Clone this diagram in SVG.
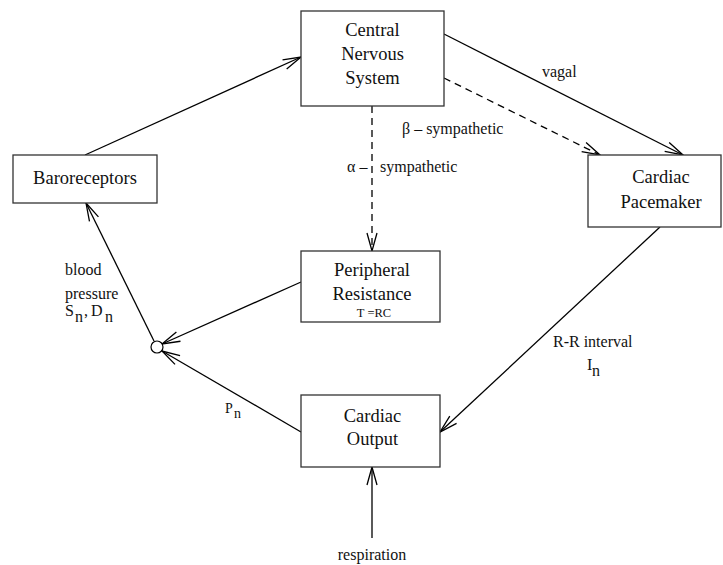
<svg xmlns="http://www.w3.org/2000/svg" width="723" height="565" viewBox="0 0 723 565">
<defs>
<style>
.box{fill:#fff;stroke:#333;stroke-width:1.3}
.lbl{font-size:18.5px;fill:#111;text-anchor:middle}
.t{font-size:16px;fill:#111}
.s{font-size:14px;fill:#111}
.ln{fill:none;stroke:#000;stroke-width:1.3;marker-end:url(#ah)}
.dash{stroke-dasharray:7 5}
</style>
<marker id="ah" markerUnits="userSpaceOnUse" viewBox="-20 -7 22 14" markerWidth="22" markerHeight="14" refX="0" refY="0" orient="auto">
<path d="M-18,-5 L0,0 L-18,5" fill="none" stroke="#000" stroke-width="1.3" stroke-dasharray="none"/>
</marker>
</defs>
<g id="connectors">
<line class="ln" x1="85" y1="155" x2="301" y2="57"/>
<line class="ln" x1="444" y1="34" x2="683" y2="155"/>
<line class="ln dash" x1="444" y1="78" x2="600" y2="155"/>
<line class="ln dash" x1="372" y1="106" x2="372" y2="251"/>
<line class="ln" x1="301" y1="282" x2="162" y2="344"/>
<line class="ln" x1="301" y1="432" x2="162" y2="351"/>
<line class="ln" x1="660" y1="227" x2="440" y2="432"/>
<line class="ln" x1="372" y1="538" x2="372" y2="467"/>
<line class="ln" x1="154" y1="341" x2="86" y2="203"/>
<circle cx="157" cy="347" r="6" fill="#fff" stroke="#000" stroke-width="1.2"/>
</g>
<g font-family="Liberation Serif, Times New Roman, DejaVu Serif, serif">
<g id="cns">
<rect class="box" x="301" y="11" width="143" height="95"/>
<text class="lbl" x="372.5" y="36">Central</text>
<text class="lbl" x="372.5" y="60">Nervous</text>
<text class="lbl" x="372.5" y="84">System</text>
</g>
<g id="baroreceptors">
<rect class="box" x="13" y="155" width="144" height="48"/>
<text class="lbl" x="85" y="184">Baroreceptors</text>
</g>
<g id="pacemaker">
<rect class="box" x="588" y="155" width="133" height="72"/>
<text class="lbl" x="661" y="183">Cardiac</text>
<text class="lbl" x="661" y="208">Pacemaker</text>
</g>
<g id="peripheral">
<rect class="box" x="301" y="251" width="139" height="71"/>
<text class="lbl" x="372" y="276">Peripheral</text>
<text class="lbl" x="372" y="300">Resistance</text>
<text class="lbl" x="374" y="317" style="font-size:12.5px">T =RC</text>
</g>
<g id="output">
<rect class="box" x="301" y="395" width="139" height="72"/>
<text class="lbl" x="372.5" y="422">Cardiac</text>
<text class="lbl" x="372.5" y="445">Output</text>
</g>
<g id="labels">
<text class="t" x="542" y="77">vagal</text>
<text class="t" x="402" y="134">β –  sympathetic</text>
<text class="t" x="347" y="172">α –</text>
<text class="t" x="380" y="172">sympathetic</text>
<text class="t" x="65" y="275">blood</text>
<text class="t" x="65" y="299">pressure</text>
<text class="t" x="65" y="316">S</text>
<text class="t" x="75" y="322">n</text>
<text class="t" x="84" y="316">,</text>
<text class="t" x="91" y="316">D</text>
<text class="t" x="105" y="322">n</text>
<text class="s" x="225" y="413">P</text>
<text class="s" x="234" y="418">n</text>
<text class="t" x="553" y="347">R-R interval</text>
<text class="t" x="587" y="370">I</text>
<text class="t" x="592" y="376">n</text>
<text class="t" x="372" y="560" text-anchor="middle">respiration</text>
</g>
</g>
</svg>
